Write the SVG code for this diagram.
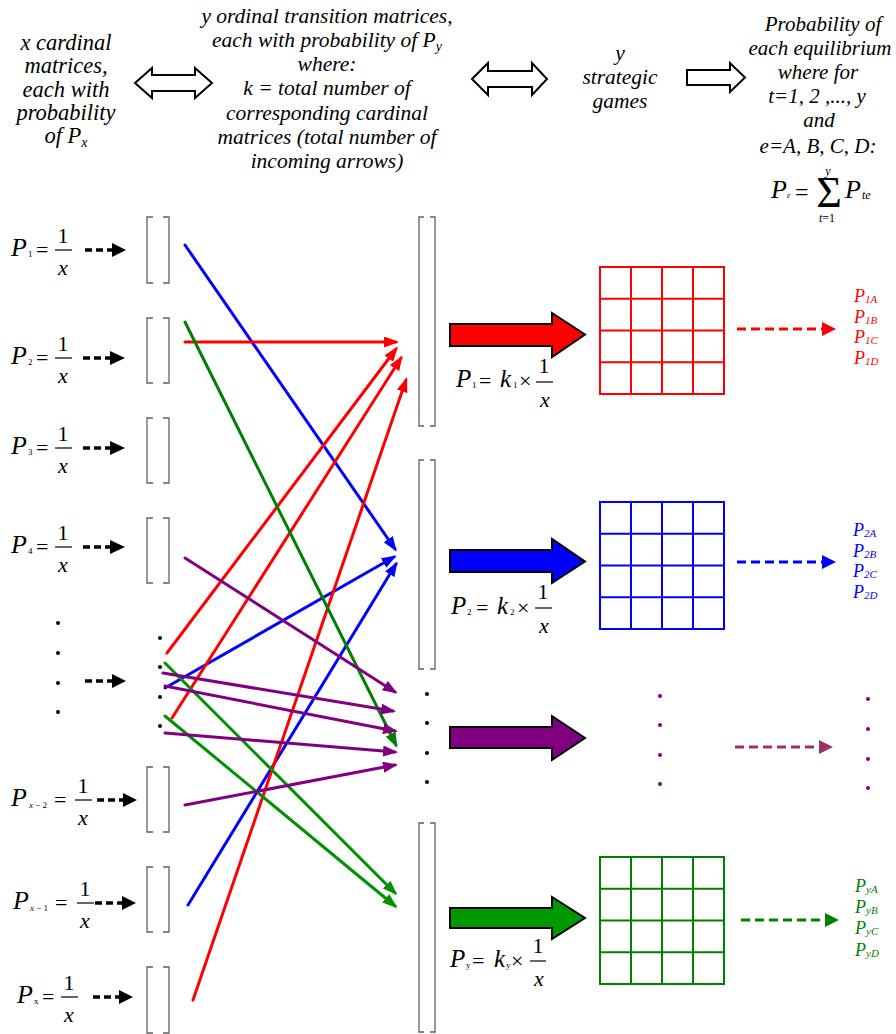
<svg xmlns="http://www.w3.org/2000/svg" width="896" height="1034" viewBox="0 0 896 1034" font-family="'Liberation Serif', 'DejaVu Serif', serif">
<style>
.t{font-family:'Liberation Serif','DejaVu Serif',serif;font-style:italic;font-size:21.5px;text-anchor:middle;fill:#000}
.tl{font-size:22.5px}
.tr{font-size:21px}
.f{font-family:'Liberation Serif','DejaVu Serif',serif;font-size:22px;fill:#000}
.i{font-style:italic}
.s{font-size:9px;font-style:normal}
.c{text-anchor:middle}
.br{fill:none;stroke:#606060;stroke-width:1.3}
.hol{fill:#fff;stroke:#000;stroke-width:2;stroke-linejoin:miter}
.blk{stroke:#000;stroke-width:2}
.bar{stroke:#000;stroke-width:1.2}
.dl{fill:none;stroke:#000;stroke-width:3.5;stroke-dasharray:7 4}
.dr{fill:none;stroke-width:3;stroke-dasharray:9 5}
.cn{fill:none;stroke-width:3;stroke-linecap:round}
.lab{font-family:'Liberation Serif','DejaVu Serif',serif;font-style:italic;font-size:18px}
.lab tspan{font-size:11px}
.grid{fill:none;stroke-width:2}
</style>
<defs>
<marker id="mR" viewBox="0 0 15 11" markerUnits="userSpaceOnUse" markerWidth="15" markerHeight="11" refX="12" refY="5.5" orient="auto"><path d="M0,0L15,5.5L0,11z" fill="#ff0000"/></marker>
<marker id="mB" viewBox="0 0 15 11" markerUnits="userSpaceOnUse" markerWidth="15" markerHeight="11" refX="12" refY="5.5" orient="auto"><path d="M0,0L15,5.5L0,11z" fill="#0000ff"/></marker>
<marker id="mG" viewBox="0 0 15 11" markerUnits="userSpaceOnUse" markerWidth="15" markerHeight="11" refX="12" refY="5.5" orient="auto"><path d="M0,0L15,5.5L0,11z" fill="#008000"/></marker>
<marker id="mG2" viewBox="0 0 15 11" markerUnits="userSpaceOnUse" markerWidth="15" markerHeight="11" refX="12" refY="5.5" orient="auto"><path d="M0,0L15,5.5L0,11z" fill="#009000"/></marker>
<marker id="mP" viewBox="0 0 15 11" markerUnits="userSpaceOnUse" markerWidth="15" markerHeight="11" refX="12" refY="5.5" orient="auto"><path d="M0,0L15,5.5L0,11z" fill="#800080"/></marker>
</defs>
<rect width="896" height="1034" fill="#fff"/>

<!-- Header -->
<g id="hdr-left">
<text class="t tl" x="66" y="50">x cardinal</text>
<text class="t tl" x="66" y="73">matrices,</text>
<text class="t tl" x="66" y="97">each with</text>
<text class="t tl" x="66" y="120">probability</text>
<text class="t tl" x="66" y="143">of P<tspan style="font-size:14px" dy="4">x</tspan></text>
</g>
<g id="hdr-arrow1"><polygon class="hol" points="135,83 152,68 152,75 195,75 195,68 212,83 195,98 195,91 152,91 152,98"/></g>
<g id="hdr-mid">
<text class="t" x="327" y="23">y ordinal transition matrices,</text>
<text class="t" x="327" y="47">each with probability of P<tspan style="font-size:14px" dy="4">y</tspan></text>
<text class="t" x="327" y="71">where:</text>
<text class="t" x="327" y="95">k = total number of</text>
<text class="t" x="327" y="120">corresponding cardinal</text>
<text class="t" x="327" y="144">matrices (total number of</text>
<text class="t" x="327" y="168">incoming arrows)</text>
</g>
<g id="hdr-arrow2"><polygon class="hol" points="472,79 488,63 488,71 532,71 532,63 547,79 532,95 532,87 488,87 488,95"/></g>
<g id="hdr-games">
<text class="t" x="620" y="60">y</text>
<text class="t" x="620" y="84">strategic</text>
<text class="t" x="620" y="108">games</text>
</g>
<g id="hdr-arrow3"><polygon class="hol" points="687,70 730,70 730,63 745,77.5 730,92 730,85 687,85"/></g>
<g id="hdr-right">
<text class="t tr" x="823" y="31">Probability of</text>
<text class="t tr" x="820" y="55">each equilibrium</text>
<text class="t tr" x="818" y="79">where for</text>
<text class="t tr" x="817" y="103">t=1, 2 ,..., y</text>
<text class="t tr" x="819" y="127">and</text>
<text class="t tr" x="818" y="153">e=A, B, C, D:</text>
<text class="f i" x="771" y="198" style="font-size:26px">P</text>
<text class="f i" x="787" y="198" style="font-size:8px">e</text>
<text class="f" x="795" y="200" style="font-size:24px">=</text>
<text class="f c" x="829" y="207" style="font-size:44px">Σ</text>
<text class="f i c" x="828" y="175" style="font-size:12px">y</text>
<text class="f c" x="827" y="222" style="font-size:12px"><tspan font-style="italic">t</tspan>=1</text>
<text class="f i" x="845" y="198" style="font-size:26px">P</text>
<text class="f i" x="862" y="199" style="font-size:12px">te</text>
</g>

<!-- Left formulas -->
<g id="p1" transform="translate(0,250)">
<text class="f i" x="11" y="6" style="font-size:26px">P</text><text class="f s" x="28" y="7">1</text><text class="f" x="36" y="7">=</text>
<text class="f c" x="63" y="-7">1</text><line class="bar" x1="55" y1="0" x2="72" y2="0"/><text class="f i c" x="63" y="25">x</text>
<line class="dl" x1="85" y1="0" x2="113" y2="0"/><polygon points="112,-7 126,0 112,7"/>
<path class="br" d="M153,-33H147V33H153M163,-33H169V33H163"/>
</g>
<g id="p2" transform="translate(0,358)">
<text class="f i" x="11" y="6" style="font-size:26px">P</text><text class="f s" x="28" y="7">2</text><text class="f" x="36" y="7">=</text>
<text class="f c" x="63" y="-7">1</text><line class="bar" x1="55" y1="0" x2="72" y2="0"/><text class="f i c" x="63" y="25">x</text>
<line class="dl" x1="83" y1="0" x2="111" y2="0"/><polygon points="110,-7 125,0 110,7"/>
<path class="br" d="M153,-40H147V25H153M163,-40H169V25H163"/>
</g>
<g id="p3" transform="translate(0,448)">
<text class="f i" x="11" y="6" style="font-size:26px">P</text><text class="f s" x="28" y="7">3</text><text class="f" x="36" y="7">=</text>
<text class="f c" x="63" y="-7">1</text><line class="bar" x1="55" y1="0" x2="72" y2="0"/><text class="f i c" x="63" y="25">x</text>
<line class="dl" x1="83" y1="0" x2="111" y2="0"/><polygon points="110,-7 125,0 110,7"/>
<path class="br" d="M153,-30H147V35H153M163,-30H169V35H163"/>
</g>
<g id="p4" transform="translate(0,547)">
<text class="f i" x="11" y="6" style="font-size:26px">P</text><text class="f s" x="28" y="7">4</text><text class="f" x="36" y="7">=</text>
<text class="f c" x="63" y="-7">1</text><line class="bar" x1="55" y1="0" x2="72" y2="0"/><text class="f i c" x="63" y="25">x</text>
<line class="dl" x1="83" y1="0" x2="111" y2="0"/><polygon points="110,-7 125,0 110,7"/>
<path class="br" d="M153,-29H147V36H153M163,-29H169V36H163"/>
</g>
<g id="pdots">
<circle cx="58" cy="623" r="2"/><circle cx="58" cy="653" r="2"/><circle cx="58" cy="683" r="2"/><circle cx="58" cy="712" r="2"/>
<line class="dl" x1="85" y1="681" x2="113" y2="681"/><polygon points="112,674 126,681 112,688"/>
<circle cx="160" cy="638" r="2"/><circle cx="160" cy="667" r="2"/><circle cx="160" cy="697" r="2"/><circle cx="160" cy="726" r="2"/>
</g>
<g id="px2" transform="translate(0,800)">
<text class="f i" x="11" y="6" style="font-size:26px">P</text><text class="f s" x="29" y="8"><tspan font-style="italic">x</tspan> − 2</text><text class="f" x="54" y="7">=</text>
<text class="f c" x="83" y="-7">1</text><line class="bar" x1="75" y1="0" x2="92" y2="0"/><text class="f i c" x="83" y="25">x</text>
<line class="dl" x1="97" y1="0" x2="124" y2="0"/><polygon points="123,-7 137,0 123,7"/>
<path class="br" d="M153,-33H147V32H153M163,-33H169V32H163"/>
</g>
<g id="px1" transform="translate(0,903)">
<text class="f i" x="13" y="6" style="font-size:26px">P</text><text class="f s" x="30" y="8"><tspan font-style="italic">x</tspan> − 1</text><text class="f" x="55" y="7">=</text>
<text class="f c" x="85" y="-7">1</text><line class="bar" x1="77" y1="0" x2="94" y2="0"/><text class="f i c" x="85" y="25">x</text>
<line class="dl" x1="95" y1="0" x2="123" y2="0"/><polygon points="122,-7 136,0 122,7"/>
<path class="br" d="M153,-36H147V29H153M163,-36H169V29H163"/>
</g>
<g id="px" transform="translate(0,997)">
<text class="f i" x="17" y="6" style="font-size:26px">P</text><text class="f s i" x="34" y="7">x</text><text class="f" x="42" y="7">=</text>
<text class="f c" x="69" y="-7">1</text><line class="bar" x1="61" y1="0" x2="78" y2="0"/><text class="f i c" x="69" y="25">x</text>
<line class="dl" x1="93" y1="0" x2="120" y2="0"/><polygon points="119,-7 133,0 119,7"/>
<path class="br" d="M153,-30H147V36H153M163,-30H169V36H163"/>
</g>

<!-- Middle tall brackets -->
<g id="t1"><path class="br" d="M424,217H419V426H424M430,217H435V426H430"/></g>
<g id="t2"><path class="br" d="M424,460H419V669H424M430,460H435V669H430"/></g>
<g id="tdots"><circle cx="427" cy="694" r="2"/><circle cx="427" cy="723" r="2"/><circle cx="427" cy="753" r="2"/><circle cx="427" cy="782" r="2"/></g>
<g id="t3"><path class="br" d="M424,823H419V1032H424M430,823H435V1032H430"/></g>

<!-- Connectors -->
<g id="connectors">
<line class="cn" stroke="#0000ff" marker-end="url(#mB)" x1="185" y1="245" x2="395" y2="549"/>
<line class="cn" stroke="#0000ff" marker-end="url(#mB)" x1="165" y1="688" x2="394" y2="557"/>
<line class="cn" stroke="#0000ff" marker-end="url(#mB)" x1="188" y1="905" x2="396" y2="564"/>
<line class="cn" stroke="#ff0000" marker-end="url(#mR)" x1="185" y1="342" x2="396" y2="342"/>
<line class="cn" stroke="#ff0000" marker-end="url(#mR)" x1="167" y1="653" x2="396" y2="349"/>
<line class="cn" stroke="#ff0000" marker-end="url(#mR)" x1="172" y1="718" x2="401" y2="358"/>
<line class="cn" stroke="#ff0000" marker-end="url(#mR)" x1="193" y1="1000" x2="406" y2="380"/>
<line class="cn" stroke="#008000" marker-end="url(#mG)" x1="185" y1="322" x2="396" y2="745"/>
<line class="cn" stroke="#009000" marker-end="url(#mG2)" x1="165" y1="663" x2="395" y2="893"/>
<line class="cn" stroke="#009000" marker-end="url(#mG2)" x1="165" y1="716" x2="395" y2="906"/>
<line class="cn" stroke="#800080" marker-end="url(#mP)" x1="185" y1="558" x2="395" y2="692"/>
<line class="cn" stroke="#800080" marker-end="url(#mP)" x1="163" y1="673" x2="393" y2="711"/>
<line class="cn" stroke="#800080" marker-end="url(#mP)" x1="165" y1="686" x2="395" y2="731"/>
<line class="cn" stroke="#800080" marker-end="url(#mP)" x1="165" y1="733" x2="395" y2="752"/>
<line class="cn" stroke="#800080" marker-end="url(#mP)" x1="185" y1="805" x2="395" y2="765"/>
</g>

<!-- Game 1 (red) -->
<g id="g1">
<polygon class="blk" fill="#ff0000" points="450,324 552,324 552,313 585,334.5 552,357 552,346 450,346"/>
<text class="f i" x="456" y="387" style="font-size:25px">P</text><text class="f s" x="472" y="388">1</text><text class="f" x="479" y="388">=</text>
<text class="f i" x="500" y="387" style="font-size:25px">k</text><text class="f s" x="513" y="388">1</text><text class="f" x="519" y="388">×</text>
<text class="f c" x="544" y="373">1</text><line class="bar" x1="536" y1="382" x2="553" y2="382"/><text class="f i c" x="545" y="407">x</text>
<path class="grid" stroke="#ff0000" d="M600,267H724V394H600ZM631,267V394M662,267V394M693,267V394M600,298.75H724M600,330.5H724M600,362.25H724"/>
<line class="dr" stroke="#ff0000" x1="737" y1="329" x2="823" y2="329"/><polygon fill="#ff0000" points="822,322 836,329 822,336"/>
<g class="lab" fill="#ff0000">
<text x="854" y="302">P<tspan dy="1">1A</tspan></text>
<text x="854" y="323">P<tspan dy="1">1B</tspan></text>
<text x="854" y="343">P<tspan dy="1">1C</tspan></text>
<text x="854" y="364">P<tspan dy="1">1D</tspan></text>
</g>
</g>

<!-- Game 2 (blue) -->
<g id="g2">
<polygon class="blk" fill="#0000ff" points="450,550 552,550 552,539 585,561.5 552,583 552,572 450,572"/>
<text class="f i" x="451" y="614" style="font-size:25px">P</text><text class="f s" x="467" y="615">2</text><text class="f" x="476" y="615">=</text>
<text class="f i" x="497" y="614" style="font-size:25px">k</text><text class="f s" x="510" y="615">2</text><text class="f" x="517" y="615">×</text>
<text class="f c" x="543" y="599">1</text><line class="bar" x1="535" y1="608" x2="552" y2="608"/><text class="f i c" x="544" y="633">x</text>
<path class="grid" stroke="#0000ff" d="M600,502H724V629H600ZM631,502V629M662,502V629M693,502V629M600,533.75H724M600,565.5H724M600,597.25H724"/>
<line class="dr" stroke="#0000ff" x1="737" y1="562" x2="823" y2="562"/><polygon fill="#0000ff" points="822,555 836,562 822,569"/>
<g class="lab" fill="#0000ff">
<text x="853" y="536">P<tspan dy="1">2A</tspan></text>
<text x="853" y="557">P<tspan dy="1">2B</tspan></text>
<text x="853" y="577">P<tspan dy="1">2C</tspan></text>
<text x="853" y="598">P<tspan dy="1">2D</tspan></text>
</g>
</g>

<!-- Game dots (purple) -->
<g id="gdots">
<polygon class="blk" fill="#800080" points="450,727 552,727 552,716 585,738 552,760 552,748 450,748"/>
<g fill="#800080"><circle cx="660" cy="696" r="2"/><circle cx="660" cy="725" r="2"/><circle cx="660" cy="755" r="2"/><circle cx="660" cy="784" r="2"/>
<circle cx="868" cy="699" r="2"/><circle cx="868" cy="729" r="2"/><circle cx="868" cy="759" r="2"/><circle cx="868" cy="788" r="2"/></g>
<line class="dr" stroke="#993366" x1="735" y1="747" x2="820" y2="747"/><polygon fill="#993366" points="819,740 833,747 819,754"/>
</g>

<!-- Game y (green) -->
<g id="gy">
<polygon class="blk" fill="#009900" points="450,908 552,908 552,897 585,918 552,939 552,928 450,928"/>
<text class="f i" x="450" y="967" style="font-size:25px">P</text><text class="f s i" x="466" y="968">y</text><text class="f" x="472" y="968">=</text>
<text class="f i" x="494" y="967" style="font-size:25px">k</text><text class="f s i" x="506" y="968">y</text><text class="f" x="511" y="968">×</text>
<text class="f c" x="538" y="953">1</text><line class="bar" x1="530" y1="961" x2="546" y2="961"/><text class="f i c" x="539" y="986">x</text>
<path class="grid" stroke="#008000" d="M600,857H724V984H600ZM631,857V984M662,857V984M693,857V984M600,888.75H724M600,920.5H724M600,952.25H724"/>
<line class="dr" stroke="#008000" x1="741" y1="920" x2="826" y2="920"/><polygon fill="#008000" points="825,913 839,920 825,927"/>
<g class="lab" fill="#008000">
<text x="855" y="892">P<tspan dy="1">yA</tspan></text>
<text x="855" y="913">P<tspan dy="1">yB</tspan></text>
<text x="855" y="934">P<tspan dy="1">yC</tspan></text>
<text x="855" y="956">P<tspan dy="1">yD</tspan></text>
</g>
</g>
</svg>
